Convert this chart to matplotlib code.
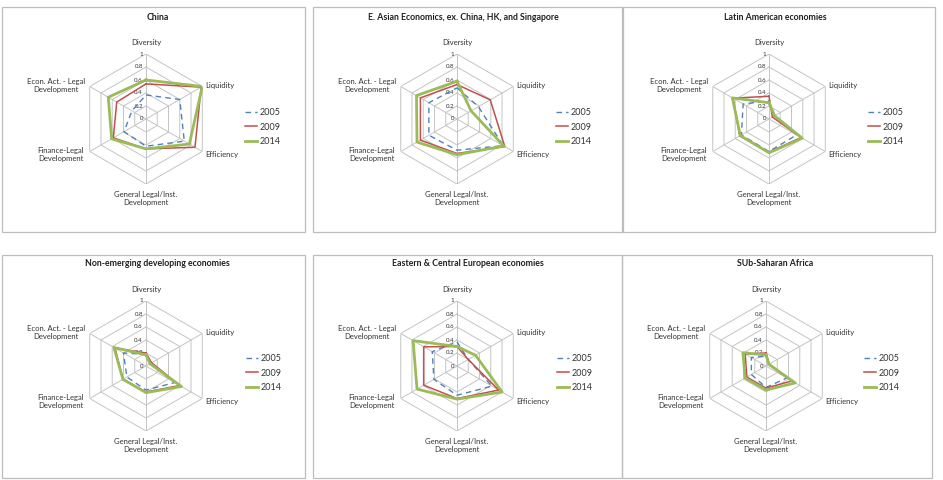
import numpy as np
import matplotlib
matplotlib.use("Agg")
import matplotlib.pyplot as plt
from matplotlib.patches import Rectangle

plt.rcParams['font.family'] = ['Lato', 'DejaVu Sans']

categories = ["Diversity", "Liquidity", "Efficiency",
              "General Legal/Inst.\nDevelopment", "Finance-Legal\nDevelopment",
              "Econ. Act. - Legal\nDevelopment"]
years = ["2005", "2009", "2014"]
ticks = [0, 0.2, 0.4, 0.6, 0.8, 1.0]
tick_labels = ["0", "0.2", "0.4", "0.6", "0.8", "1"]

titles = ["China",
          "E. Asian Economics, ex. China, HK, and Singapore",
          "Latin American economies",
          "Non-emerging developing economies",
          "Eastern & Central European economies",
          "SUb-Saharan Africa"]

# values per region: rows = 2005, 2009, 2014 ; columns follow categories
china = [[0.37, 0.60, 0.68, 0.42, 0.39, 0.25],
         [0.54, 0.98, 0.87, 0.46, 0.58, 0.52],
         [0.60, 1.00, 0.77, 0.46, 0.61, 0.67]]
east_asia = [[0.48, 0.38, 0.82, 0.48, 0.50, 0.50],
             [0.53, 0.59, 0.85, 0.53, 0.65, 0.65],
             [0.58, 0.25, 0.83, 0.55, 0.71, 0.72]]
latin_america = [[0.28, 0.10, 0.49, 0.50, 0.49, 0.46],
                 [0.35, 0.06, 0.57, 0.51, 0.52, 0.64],
                 [0.25, 0.10, 0.59, 0.52, 0.51, 0.65]]
non_emerging = [[0.18, 0.07, 0.51, 0.37, 0.34, 0.40],
                [0.20, 0.10, 0.60, 0.40, 0.41, 0.55],
                [0.17, 0.07, 0.63, 0.41, 0.41, 0.57]]
east_central_europe = [[0.37, 0.20, 0.62, 0.45, 0.41, 0.44],
                       [0.30, 0.20, 0.74, 0.50, 0.59, 0.59],
                       [0.30, 0.33, 0.80, 0.51, 0.71, 0.78]]
sub_saharan = [[0.15, 0.05, 0.37, 0.33, 0.26, 0.26],
               [0.20, 0.06, 0.46, 0.34, 0.34, 0.37],
               [0.17, 0.05, 0.52, 0.37, 0.37, 0.41]]
panels_data = [china, east_asia, latin_america, non_emerging,
               east_central_europe, sub_saharan]

W, H = 943, 480
fig = plt.figure(figsize=(W / 100, H / 100), dpi=100)
fig.patch.set_facecolor("white")

# layout (pixels): box (x0, y0, x1, y1), title center, radar center, legend left
boxes = [(2, 7, 305, 232), (313, 7, 623, 232), (622, 7, 935, 232),
         (2, 255, 305, 478), (313, 255, 622, 478), (622, 255, 932, 478)]
title_pos = [(158, 17), (463, 17), (775, 17), (157, 264), (468, 264), (775, 264)]
centers = [(146, 119), (457, 119), (769, 119), (146, 366), (457, 366), (766, 366)]
legend_left = [(245, 127), (556, 127), (868, 127), (246, 373), (557, 373), (864, 373)]
R = 65

series_style = [dict(color="#4F81BD", lw=1.0, ls=(0, (4, 3))),
                dict(color="#C0504D", lw=1.1, ls="-"),
                dict(color="#9BBB59", lw=2.0, ls="-")]

grid_color = "#C4C4C4"
text_color = "#333333"
n = len(categories)
theta = np.linspace(0, 2 * np.pi, n, endpoint=False)
theta_c = np.concatenate([theta, theta[:1]])

label_cfg = [
    dict(offset=(0, 8), ha="center", va="bottom"),
    dict(offset=(3, 1), ha="left", va="center"),
    dict(offset=(3, -3), ha="left", va="center"),
    dict(offset=(0, -7), ha="center", va="top"),
    dict(offset=(-6, -3), ha="right", va="center"),
    dict(offset=(-5, 1), ha="right", va="center"),
]

for k in range(6):
    x0, y0, x1, y1 = boxes[k]
    fig.patches.append(Rectangle((x0 / W, 1 - y1 / H), (x1 - x0) / W, (y1 - y0) / H,
                                 transform=fig.transFigure, fill=False,
                                 edgecolor="#BDBDBD", lw=0.9))
    tx, ty = title_pos[k]
    fig.text(tx / W, 1 - ty / H, titles[k], ha="center", va="center",
             fontsize=6.3, fontweight="bold", color="#202020")

    cx, cy = centers[k]
    ax = fig.add_axes([(cx - R) / W, 1 - (cy + R) / H, 2 * R / W, 2 * R / H],
                      projection="polar")
    ax.set_theta_zero_location("N")
    ax.set_theta_direction(-1)
    ax.set_ylim(0, 1)
    ax.grid(False)
    ax.set_xticks([])
    ax.set_yticks([])
    ax.spines["polar"].set_visible(False)
    ax.patch.set_alpha(0)

    # hexagonal grid
    for t in ticks[1:]:
        ax.plot(theta_c, [t] * (n + 1), color=grid_color, lw=0.7, zorder=1)
    for th in theta:
        ax.plot([th, th], [0, 1], color=grid_color, lw=0.7, zorder=1)

    # tick labels along the top axis
    for t, tl in zip(ticks, tick_labels):
        ax.annotate(tl, xy=(0, t), xytext=(-3, 0), textcoords="offset pixels",
                    ha="right", va="center", fontsize=4.4, color=text_color,
                    annotation_clip=False, zorder=2)

    # category labels
    for i, cat in enumerate(categories):
        cfg = label_cfg[i]
        ax.annotate(cat, xy=(theta[i], 1.0), xytext=cfg["offset"],
                    textcoords="offset pixels", ha=cfg["ha"], va=cfg["va"],
                    multialignment="center", fontsize=5.5, color=text_color,
                    annotation_clip=False)

    handles = []
    for j, yr in enumerate(years):
        vals = panels_data[k][j]
        vals_c = list(vals) + [vals[0]]
        st = series_style[j]
        ln, = ax.plot(theta_c, vals_c, color=st["color"], lw=st["lw"],
                      ls=st["ls"], zorder=3 + j, label=yr)
        handles.append(ln)

    lx, ly = legend_left[k]
    leg = fig.legend(handles=handles, labels=years, loc="center left",
                     bbox_to_anchor=(lx / W, 1 - ly / H),
                     bbox_transform=fig.transFigure, frameon=False,
                     fontsize=6.5, handlelength=1.3, handletextpad=0.3,
                     labelspacing=0.6, borderpad=0, borderaxespad=0)
    for t in leg.get_texts():
        t.set_color(text_color)

fig.savefig("out.png", dpi=100, facecolor="white")
